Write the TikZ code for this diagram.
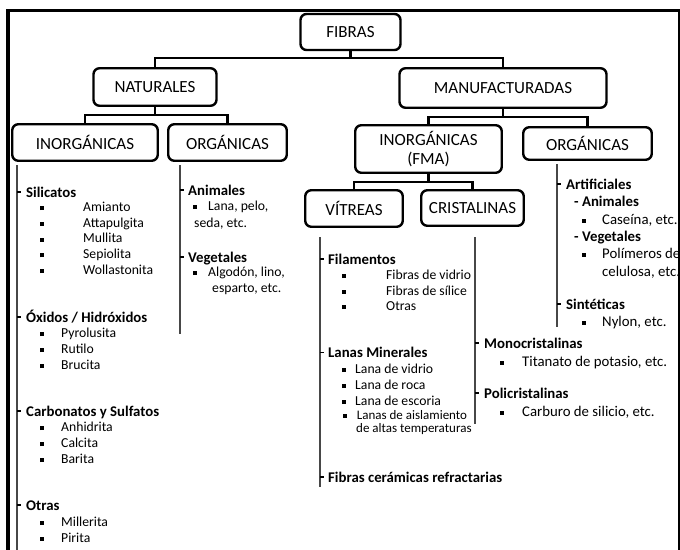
\documentclass[tikz,border=0pt]{standalone}
\usepackage{fontspec}
\setmainfont{Carlito}
\newcommand{\mybul}[1]{\raisebox{1.3pt}{\rule{4pt}{4pt}}\hspace{#1pt}}
\begin{document}
\begin{tikzpicture}[x=1pt,y=-1pt,
 box/.style={draw, line width=2.4pt, rounded corners=6pt, inner sep=0pt, align=center, font=\fontsize{17}{19.5}\selectfont},
 conn/.style={line width=2.3pt},
 vline/.style={line width=1.3pt, draw=black!72},
 tick/.style={line width=1.1pt},
 hd/.style={anchor=base west, inner sep=0pt, font=\fontsize{14.8}{17}\selectfont\bfseries},
 it/.style={anchor=base west, inner sep=0pt, font=\fontsize{13.7}{16}\selectfont},
 itr/.style={anchor=base west, inner sep=0pt, font=\fontsize{14.8}{17}\selectfont},
 its/.style={anchor=base west, inner sep=0pt, font=\fontsize{13}{15}\selectfont},
]
\useasboundingbox (0,0) rectangle (680,549);
\clip (0,0) rectangle (680,549);
\fill[white] (0,0) rectangle (680,549);
% frame
\draw[line width=4pt] (8,560) -- (8,8.5);
\draw[line width=3pt] (6,10.5) -- (680,10.5);
\draw[line width=2pt] (679,9) -- (679,560);

% boxes
\node[box, minimum width=100pt, minimum height=36pt] (fibras) at (350.5,32) {FIBRAS};
\node[box, minimum width=123pt, minimum height=37.5pt] (nat) at (155,87) {NATURALES};
\node[box, minimum width=207pt, minimum height=39.5pt] (man) at (503,88) {MANUFACTURADAS};
\node[box, minimum width=145.5pt, minimum height=36.5pt] (ninorg) at (85,142.5) {INORGÁNICAS};
\node[box, minimum width=118.5pt, minimum height=36.5pt] (norg) at (227.5,142.5) {ORGÁNICAS};
\node[box, minimum width=146.5pt, minimum height=47.5pt] (minorg) at (428.5,149) {INORGÁNICAS\\(FMA)};
\node[box, minimum width=128.5pt, minimum height=32.5pt] (morg) at (587.5,143.5) {ORGÁNICAS};
\node[box, minimum width=97.5pt, minimum height=36.5pt] (vit) at (354,208.5) {VÍTREAS};
\node[box, minimum width=102.5pt, minimum height=35.5pt] (cri) at (472.5,208) {CRISTALINAS};

% tree connectors
\draw[conn] (fibras.south) -- ++(0,7) -| (nat.north);
\draw[conn] (fibras.south) -- ++(0,7) -| (man.north);
\draw[conn] (nat.south) -- ++(0,8) -| (ninorg.north);
\draw[conn] (nat.south) -- ++(0,8) -| (norg.north);
\draw[conn] (man.south) -- ++(0,8) -| (minorg.north);
\draw[conn] (man.south) -- ++(0,8) -| (morg.north);
\draw[conn] (minorg.south) -- ++(0,8) -| (vit.north);
\draw[conn] (minorg.south) -- ++(0,8) -| (cri.north);

% vertical lines
\coordinate (l1t) at (17,165); \coordinate (l1b) at (17,560);
\coordinate (l2t) at (180,165); \coordinate (l2b) at (180,334);
\coordinate (l3t) at (320,237); \coordinate (l3b) at (320,487);
\coordinate (l4t) at (475,237); \coordinate (l4b) at (475,424);
\coordinate (l5t) at (557,164); \coordinate (l5b) at (557,327);
\draw[vline] (l1t) -- (l1b);
\draw[vline] (l2t) -- (l2b);
\draw[vline] (l3t) -- (l3b);
\draw[vline] (l4t) -- (l4b);
\draw[vline] (l5t) -- (l5b);

% ticks
\foreach \y in {192,317,411,505} \draw[tick] (17,\y) -- ++(4,0);
\foreach \y in {190,257} \draw[tick] (180,\y) -- ++(4,0);
\foreach \y in {259,352.5,477} \draw[tick] (320,\y) -- ++(4,0);
\foreach \y in {343,393} \draw[tick] (475,\y) -- ++(4,0);
\foreach \y in {184,304} \draw[tick] (557,\y) -- ++(4,0);

% natural inorganic
\node[hd] (sil) at (26,197) {Silicatos};
\node[it] (sil1) at (39.5,211.5) {\mybul{39.5}Amianto};
\node[it] (sil2) at (39.5,227.2) {\mybul{39.5}Attapulgita};
\node[it] (sil3) at (39.5,242.9) {\mybul{39.5}Mullita};
\node[it] (sil4) at (39.5,258.6) {\mybul{39.5}Sepiolita};
\node[it] (sil5) at (39.5,274.3) {\mybul{39.5}Wollastonita};
\node[hd] (oxi) at (26,322) {Óxidos / Hidróxidos};
\node[it] (oxi1) at (39.5,337.5) {\mybul{17.5}Pyrolusita};
\node[it] (oxi2) at (39.5,353.5) {\mybul{17.5}Rutilo};
\node[it] (oxi3) at (39.5,369.5) {\mybul{17.5}Brucita};
\node[hd] (carb) at (26,416) {Carbonatos y Sulfatos};
\node[it] (carb1) at (39.5,431.5) {\mybul{17.5}Anhidrita};
\node[it] (carb2) at (39.5,447.5) {\mybul{17.5}Calcita};
\node[it] (carb3) at (39.5,463.5) {\mybul{17.5}Barita};
\node[hd] (otr) at (26,510) {Otras};
\node[it] (otr1) at (39.5,526.5) {\mybul{17.5}Millerita};
\node[it] (otr2) at (39.5,542) {\mybul{17.5}Pirita};

% natural organic
\node[hd] (ani) at (188,195) {Animales};
\node[it] (ani1) at (192.7,210.5) {\mybul{11.3}Lana, pelo,};
\node[it] (ani1b) at (194,227) {seda, etc.};
\node[hd] (veg) at (188,262) {Vegetales};
\node[it] (veg1) at (192.7,276.5) {\mybul{11.3}Algodón, lino,};
\node[it] (veg1b) at (212,292.5) {esparto, etc.};

% vitreas
\node[hd] (fil) at (328,264) {Filamentos};
\node[it] (fil1) at (341.7,279.5) {\mybul{40.3}Fibras de vidrio};
\node[it] (fil2) at (341.7,295) {\mybul{40.3}Fibras de sílice};
\node[it] (fil3) at (341.7,310.5) {\mybul{40.3}Otras};
\node[hd] (lan) at (328,357.5) {Lanas Minerales};
\node[it] (lan1) at (341.7,373.5) {\mybul{9.3}Lana de vidrio};
\node[it] (lan2) at (341.7,389.5) {\mybul{9.3}Lana de roca};
\node[it] (lan3) at (341.7,405.5) {\mybul{9.3}Lana de escoria};
\node[its] (lan4) at (342.3,419) {\mybul{10.4}Lanas de aislamiento};
\node[its] (lan4b) at (356,432) {de altas temperaturas};
\node[hd] (cer) at (328,482) {Fibras cerámicas refractarias};

% cristalinas
\node[hd] (mono) at (484,348) {Monocristalinas};
\node[itr] (mono1) at (499.3,366) {\mybul{18.7}Titanato de potasio, etc.};
\node[hd] (poli) at (484,398) {Policristalinas};
\node[itr] (poli1) at (499.3,416) {\mybul{18.7}Carburo de silicio, etc.};

% manufactured organic
\node[hd] (art) at (566,189) {Artificiales};
\node[hd] (ani2) at (574,206) {- Animales};
\node[itr] (ani21) at (581.7,224) {\mybul{16.3}Caseína, etc.};
\node[hd] (veg2) at (574,241) {- Vegetales};
\node[itr] (veg21) at (581.7,258) {\mybul{16.3}Polímeros de};
\node[itr] (veg21b) at (602,276) {celulosa, etc.};
\node[hd] (sin) at (566,309) {Sintéticas};
\node[itr] (sin1) at (581.7,326) {\mybul{16.3}Nylon, etc.};
\end{tikzpicture}
\end{document}
